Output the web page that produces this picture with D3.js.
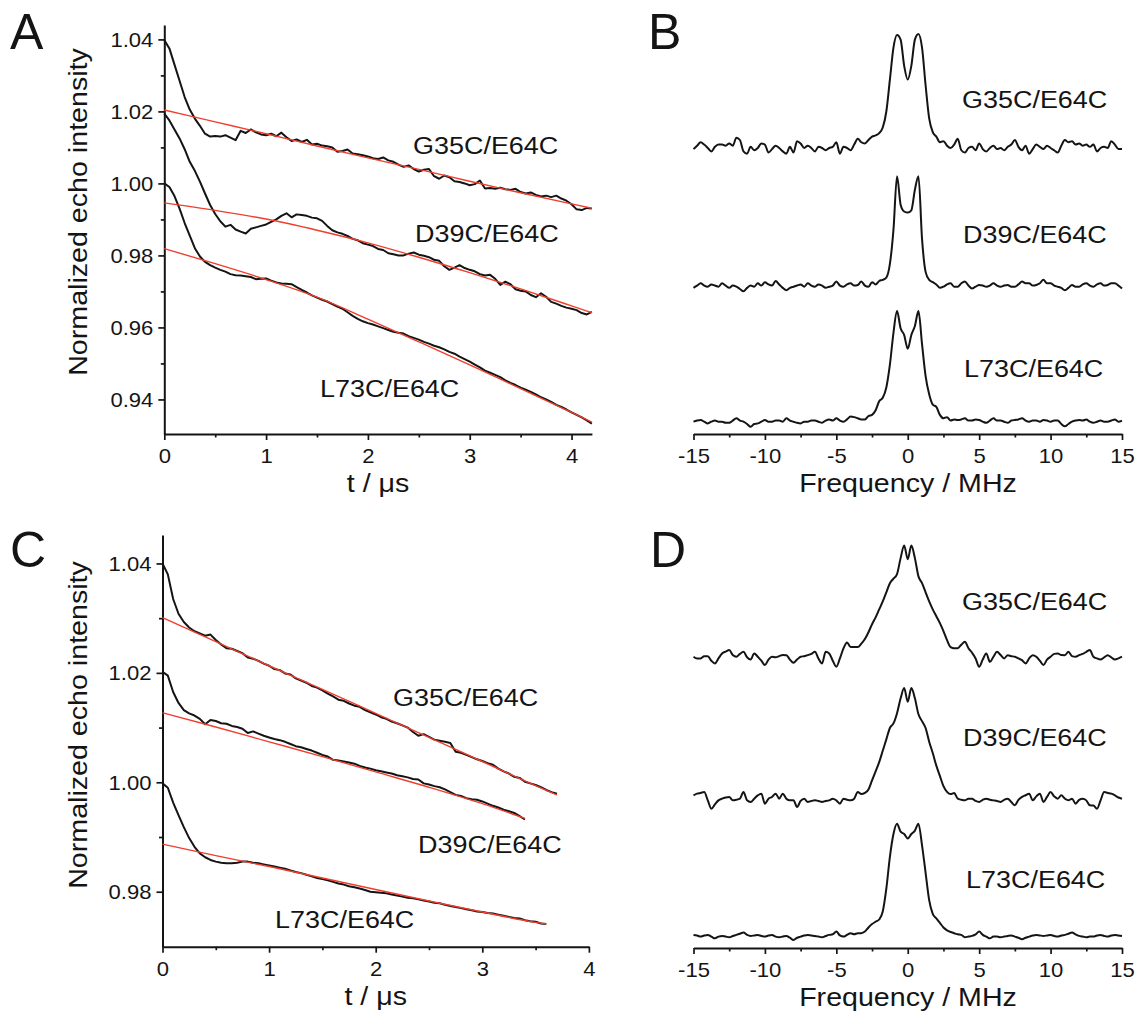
<!DOCTYPE html>
<html>
<head>
<meta charset="utf-8">
<script src="https://cdn.jsdelivr.net/npm/d3@7"></script>
<style>
  body { margin: 0; background: #fff; }
  text { font-family: "Liberation Sans", Arial, sans-serif; fill: #141414; }
</style>
</head>
<body>
<script>
// ---- time domain (panels A and C), sampled every 0.05 us ----
const times = [0,0.05,0.1,0.15,0.2,0.25,0.3,0.35,0.4,0.45,0.5,0.55,0.6,0.65,0.7,0.75,0.8,0.85,0.9,0.95,
  1,1.05,1.1,1.15,1.2,1.25,1.3,1.35,1.4,1.45,1.5,1.55,1.6,1.65,1.7,1.75,1.8,1.85,1.9,1.95,
  2,2.05,2.1,2.15,2.2,2.25,2.3,2.35,2.4,2.45,2.5,2.55,2.6,2.65,2.7,2.75,2.8,2.85,2.9,2.95,
  3,3.05,3.1,3.15,3.2,3.25,3.3,3.35,3.4,3.45,3.5,3.55,3.6,3.65,3.7,3.75,3.8,3.85,3.9,3.95,
  4,4.05,4.1,4.15,4.2];

const g35A = [1.0398,1.0375,1.0330,1.0285,1.0240,1.0205,1.0180,1.0160,1.0138,1.0130,
  1.0132,1.0130,1.0134,1.0127,1.0120,1.0146,1.0140,1.0150,1.0142,1.0136,
  1.0134,1.0138,1.0131,1.0141,1.0128,1.0118,1.0122,1.0115,1.0121,1.0108,
  1.0110,1.0105,1.0103,1.0100,1.0088,1.0090,1.0094,1.0083,1.0081,1.0078,
  1.0075,1.0070,1.0068,1.0072,1.0064,1.0060,1.0052,1.0046,1.0050,1.0040,
  1.0033,1.0038,1.0040,1.0020,1.0013,1.0022,1.0017,1.0006,1.0004,1.0000,
  0.9995,0.9998,1.0008,0.9986,0.9987,0.9985,0.9988,0.9984,0.9982,0.9985,
  0.9976,0.9972,0.9975,0.9968,0.9964,0.9966,0.9962,0.9966,0.9958,0.9952,
  0.9942,0.9928,0.9926,0.9932,0.9930];
const d39A = [1.0194,1.0175,1.0150,1.0125,1.0095,1.0060,1.0035,1.0005,0.9972,0.9940,
  0.9915,0.9895,0.9880,0.9885,0.9872,0.9866,0.9861,0.9874,0.9878,0.9882,
  0.9886,0.9893,0.9900,0.9910,0.9917,0.9906,0.9914,0.9912,0.9910,0.9905,
  0.9903,0.9896,0.9882,0.9870,0.9864,0.9860,0.9854,0.9846,0.9842,0.9834,
  0.9830,0.9826,0.9818,0.9815,0.9806,0.9803,0.9800,0.9800,0.9805,0.9808,
  0.9802,0.9799,0.9795,0.9788,0.9785,0.9770,0.9760,0.9766,0.9773,0.9765,
  0.9760,0.9756,0.9748,0.9744,0.9746,0.9735,0.9718,0.9727,0.9720,0.9706,
  0.9702,0.9700,0.9690,0.9684,0.9695,0.9685,0.9671,0.9666,0.9660,0.9655,
  0.9652,0.9648,0.9640,0.9636,0.9643];
const l73A = [1.0000,0.9990,0.9965,0.9930,0.9890,0.9855,0.9820,0.9797,0.9782,0.9773,
  0.9766,0.9760,0.9755,0.9748,0.9745,0.9744,0.9742,0.9740,0.9734,0.9735,
  0.9736,0.9730,0.9725,0.9722,0.9721,0.9720,0.9712,0.9704,0.9697,0.9689,
  0.9683,0.9677,0.9672,0.9665,0.9658,0.9652,0.9642,0.9632,0.9624,0.9617,
  0.9612,0.9608,0.9603,0.9598,0.9593,0.9588,0.9585,0.9583,0.9576,0.9571,
  0.9566,0.9560,0.9555,0.9549,0.9545,0.9539,0.9532,0.9527,0.9519,0.9512,
  0.9505,0.9497,0.9489,0.9480,0.9474,0.9468,0.9462,0.9453,0.9446,0.9440,
  0.9433,0.9427,0.9421,0.9414,0.9406,0.9400,0.9393,0.9385,0.9379,0.9372,
  0.9364,0.9357,0.9350,0.9342,0.9333];

// fitted background decays (red lines), panel A
const fitTimesA = [0,0.5,1,1.5,2,2.5,3,3.5,4,4.2];
const g35AFit = [1.0204,1.0171,1.0138,1.0104,1.0071,1.0039,1.0006,0.9974,0.9943,0.9931];
const d39AFit = [0.9946,0.9925,0.9901,0.9870,0.9835,0.9795,0.9752,0.9707,0.9660,0.9641];
const l73AFit = [0.9819,0.9777,0.9733,0.9684,0.9623,0.9560,0.9496,0.9430,0.9364,0.9337];

const g35C = [1.0400,1.0380,1.0335,1.0308,1.0293,1.0283,1.0276,1.0272,1.0268,1.0270,
  1.0260,1.0252,1.0245,1.0244,1.0240,1.0236,1.0228,1.0226,1.0222,1.0217,
  1.0213,1.0207,1.0205,1.0199,1.0197,1.0190,1.0186,1.0182,1.0176,1.0173,
  1.0168,1.0162,1.0157,1.0151,1.0149,1.0144,1.0140,1.0138,1.0132,1.0128,
  1.0124,1.0119,1.0116,1.0111,1.0108,1.0104,1.0100,1.0092,1.0085,1.0088,
  1.0083,1.0078,1.0076,1.0074,1.0072,1.0056,1.0054,1.0050,1.0046,1.0042,
  1.0039,1.0035,1.0032,1.0025,1.0020,1.0016,1.0010,1.0008,1.0001,0.9998,
  0.9995,0.9991,0.9986,0.9982,0.9979];
const d39C = [1.0202,1.0195,1.0165,1.0145,1.0132,1.0126,1.0122,1.0116,1.0106,1.0114,
  1.0112,1.0108,1.0107,1.0103,1.0101,1.0098,1.0090,1.0093,1.0089,1.0085,
  1.0082,1.0079,1.0077,1.0074,1.0070,1.0066,1.0064,1.0061,1.0058,1.0054,
  1.0050,1.0047,1.0041,1.0040,1.0038,1.0036,1.0034,1.0030,1.0027,1.0025,
  1.0022,1.0020,1.0018,1.0016,1.0013,1.0011,1.0009,1.0006,1.0005,0.9998,
  0.9996,0.9993,0.9991,0.9987,0.9982,0.9977,0.9975,0.9971,0.9969,0.9968,
  0.9965,0.9961,0.9957,0.9954,0.9950,0.9947,0.9944,0.9938,0.9932];
const l73C = [0.9998,0.9990,0.9963,0.9940,0.9918,0.9898,0.9882,0.9870,0.9863,0.9858,
  0.9855,0.9853,0.9852,0.9852,0.9853,0.9855,0.9855,0.9853,0.9852,0.9850,
  0.9848,0.9846,0.9844,0.9842,0.9839,0.9836,0.9834,0.9831,0.9828,0.9825,
  0.9823,0.9821,0.9818,0.9815,0.9813,0.9810,0.9808,0.9806,0.9803,0.9800,
  0.9799,0.9798,0.9797,0.9795,0.9793,0.9791,0.9789,0.9788,0.9786,0.9784,
  0.9782,0.9780,0.9779,0.9776,0.9774,0.9772,0.9770,0.9768,0.9766,0.9764,
  0.9763,0.9761,0.9760,0.9758,0.9756,0.9754,0.9752,0.9751,0.9748,0.9746,
  0.9745,0.9742,0.9741];

const g35CFitT = [0,0.5,1,1.5,2,2.5,3,3.5,3.7];
const g35CFit = [1.0301,1.0257,1.0213,1.0170,1.0126,1.0082,1.0038,0.9994,0.9977];
const d39CFitT = [0,0.5,1,1.5,2,2.5,3,3.4];
const d39CFit = [1.0127,1.0101,1.0074,1.0047,1.0019,0.9991,0.9961,0.9934];
const l73CFitT = [0,0.5,1,1.5,2,2.5,3,3.5,3.6];
const l73CFit = [0.9887,0.9866,0.9846,0.9825,0.9804,0.9783,0.9763,0.9744,0.9741];

// ---- distance-domain spectra (panels B and D), every 0.25 MHz ----
const freqs = [-15,-14.75,-14.5,-14.25,-14,-13.75,-13.5,-13.25,-13,-12.75,
  -12.5,-12.25,-12,-11.75,-11.5,-11.25,-11,-10.75,-10.5,-10.25,
  -10,-9.75,-9.5,-9.25,-9,-8.75,-8.5,-8.25,-8,-7.75,
  -7.5,-7.25,-7,-6.75,-6.5,-6.25,-6,-5.75,-5.5,-5.25,
  -5,-4.75,-4.5,-4.25,-4,-3.75,-3.5,-3.25,-3,-2.75,
  -2.5,-2.25,-2,-1.75,-1.5,-1.25,-1,-0.75,-0.5,-0.25,
  0,
  0.25,0.5,0.75,1,1.25,1.5,1.75,2,2.25,2.5,
  2.75,3,3.25,3.5,3.75,4,4.25,4.5,4.75,5,
  5.25,5.5,5.75,6,6.25,6.5,6.75,7,7.25,7.5,
  7.75,8,8.25,8.5,8.75,9,9.25,9.5,9.75,10,
  10.25,10.5,10.75,11,11.25,11.5,11.75,12,12.25,12.5,
  12.75,13,13.25,13.5,13.75,14,14.25,14.5,14.75,15];

const g35B = [-0.01,0.02,0.05,0.03,0.0,-0.03,0.01,0.03,0.03,0.02,
  0.04,0.02,0.09,0.07,-0.03,-0.05,0.01,-0.02,0.0,0.04,
  0.03,-0.04,-0.01,0.02,0.0,-0.03,-0.05,0.01,-0.04,0.06,
  0.04,0.0,0.02,0.0,-0.03,0.01,0.0,-0.02,0.0,0.01,
  0.05,-0.05,0.01,0.0,-0.02,0.03,0.08,0.05,0.04,0.07,
  0.10,0.11,0.13,0.18,0.32,0.60,0.88,0.99,0.95,0.72,
  0.60,
  0.72,0.95,1.0,0.88,0.55,0.26,0.14,0.10,0.05,0.06,
  0.02,0.0,0.03,0.08,-0.02,-0.04,0.0,0.01,-0.02,0.04,
  -0.01,-0.03,0.0,0.02,-0.01,0.0,-0.02,0.01,0.03,0.07,
  0.01,-0.02,0.02,-0.05,-0.01,0.03,0.01,-0.01,0.02,0.0,
  -0.02,-0.04,0.02,0.07,0.05,0.06,0.03,0.04,0.02,0.03,
  0.01,0.03,-0.03,0.0,0.01,0.0,0.06,0.03,-0.01,-0.01];
const d39B = [-0.01,0.01,0.03,0.01,0.0,0.02,0.01,0.0,0.03,0.01,
  -0.01,0.01,0.0,-0.02,-0.04,-0.01,0.01,0.0,0.03,0.01,
  0.04,0.02,0.01,0.05,0.02,-0.01,-0.03,-0.01,0.0,0.01,
  0.02,0.0,0.03,0.01,0.0,0.02,0.01,-0.01,0.0,0.01,
  0.045,0.01,0.0,0.02,0.03,0.01,0.015,0.045,0.01,0.0,
  0.04,0.02,0.05,0.06,0.08,0.2,0.5,0.97,0.72,0.66,
  0.65,
  0.67,0.85,0.97,0.42,0.13,0.06,0.04,0.02,-0.01,0.0,
  0.02,0.03,0.0,0.0,0.03,0.045,0.01,-0.015,0.0,0.015,
  0.01,0.0,0.01,0.03,0.01,0.0,0.01,0.015,0.0,0.0,
  0.02,0.045,0.03,0.03,0.01,0.015,0.03,0.06,0.03,0.03,
  0.01,0.0,-0.01,-0.03,-0.01,0.015,0.0,0.0,0.02,0.03,
  0.01,0.0,0.02,0.03,0.01,0.015,0.03,0.03,0.01,-0.015];
const l73B = [0.0,0.01,0.015,0.0,-0.015,0.0,0.01,0.0,0.0,-0.01,
  -0.01,0.01,0.03,0.01,0.0,-0.02,-0.045,-0.02,-0.015,0.0,
  0.015,0.0,0.0,0.01,0.01,0.0,0.03,0.01,0.0,-0.01,
  -0.015,0.0,0.0,0.01,0.01,0.0,-0.01,0.01,0.02,0.01,
  0.03,0.01,0.0,0.02,0.045,0.04,0.03,0.02,0.02,0.05,
  0.06,0.1,0.18,0.21,0.30,0.50,0.78,0.97,0.82,0.76,
  0.64,
  0.76,0.84,0.97,0.68,0.40,0.24,0.15,0.13,0.06,0.03,
  0.04,0.01,0.02,0.015,0.02,0.03,0.01,0.01,0.02,0.015,
  0.0,-0.01,0.01,0.03,0.01,0.01,0.0,-0.01,0.01,0.015,
  0.02,0.03,0.01,0.0,0.01,0.01,0.0,0.015,0.01,0.0,
  0.01,0.01,-0.02,-0.04,-0.02,0.0,0.01,0.015,0.01,0.02,
  0.0,-0.01,0.0,0.01,0.0,0.0,0.01,0.02,0.0,0.01];

const g35D = [0.015,0.0,0.0,0.02,0.02,-0.02,-0.044,0.0,0.044,0.06,
  0.073,0.03,0.015,0.04,0.058,0.01,-0.01,0.044,0.015,-0.02,
  -0.058,-0.01,0.015,0.01,0.02,0.03,0.029,-0.01,-0.038,-0.01,
  0.015,0.02,0.029,0.04,0.058,0.0,-0.044,0.058,0.044,-0.02,
  -0.073,0.0,0.088,0.14,0.10,0.10,0.10,0.13,0.17,0.23,
  0.30,0.36,0.43,0.50,0.58,0.66,0.70,0.74,0.88,0.99,
  0.87,
  0.99,0.88,0.72,0.66,0.58,0.50,0.43,0.37,0.31,0.24,
  0.16,0.10,0.09,0.09,0.12,0.146,0.09,0.05,0.0,-0.073,
  -0.01,0.044,-0.03,0.015,0.058,0.03,0.0,0.029,0.02,0.015,
  0.0,-0.015,-0.044,0.0,0.029,0.015,-0.02,-0.058,-0.01,0.015,
  0.04,0.044,0.03,0.029,0.058,0.02,0.015,0.029,0.04,0.058,
  0.073,0.015,0.0,-0.009,0.01,0.029,0.01,-0.009,0.0,0.015];
const d39D = [0.029,0.044,0.05,0.058,-0.015,-0.088,-0.05,-0.015,0.0,0.01,
  0.015,-0.015,-0.01,0.0,0.058,-0.015,-0.029,0.0,0.029,0.044,
  -0.044,0.0,0.015,0.044,0.0,0.044,0.0,-0.015,-0.015,-0.073,
  -0.02,0.0,-0.029,-0.02,-0.015,-0.02,-0.029,-0.02,-0.015,0.0,
  -0.015,-0.044,0.0,-0.01,-0.015,0.0,0.058,0.04,0.05,0.08,
  0.16,0.24,0.32,0.42,0.52,0.62,0.66,0.75,0.88,0.97,
  0.85,
  0.97,0.88,0.74,0.68,0.62,0.50,0.40,0.29,0.20,0.11,
  0.06,0.04,0.05,0.0,-0.01,-0.015,0.0,0.0,-0.02,-0.029,
  -0.01,0.0,-0.01,-0.015,-0.02,-0.029,-0.01,0.0,-0.03,-0.058,
  -0.01,0.015,0.03,0.044,-0.015,0.02,0.044,-0.029,0.015,0.058,
  0.02,0.0,0.029,0.0,-0.015,0.0,-0.044,-0.01,0.0,-0.015,
  -0.058,-0.06,-0.088,-0.015,0.058,0.05,0.044,0.029,0.01,0.0];
const l73D = [0.015,0.01,0.0,0.01,0.015,0.0,-0.015,0.0,0.006,0.0,
  -0.006,0.005,0.015,0.025,0.035,0.015,0.006,0.01,0.015,0.005,
  0.0,0.01,0.015,0.0,-0.006,0.0,0.006,-0.01,-0.03,-0.01,
  0.0,0.01,0.015,0.01,0.006,0.0,-0.006,0.005,0.015,0.02,
  0.044,0.01,0.0,0.015,0.03,0.02,0.03,0.03,0.044,0.08,
  0.11,0.13,0.15,0.22,0.42,0.70,0.90,0.99,0.92,0.90,
  0.86,
  0.90,0.93,0.99,0.80,0.56,0.32,0.20,0.16,0.12,0.08,
  0.055,0.04,0.03,0.02,0.015,-0.006,0.0,0.006,0.02,0.044,
  0.015,0.0,-0.015,0.0,0.0,-0.006,0.0,0.006,0.01,0.0,
  -0.01,-0.023,-0.01,0.0,0.01,0.015,0.01,0.006,0.01,0.015,
  0.005,0.0,0.01,0.015,0.025,0.035,0.02,0.006,0.0,-0.006,
  0.0,0.0,0.01,0.015,0.006,0.0,0.01,0.015,0.01,0.006];

const sampleNames = ["G35C/E64C", "D39C/E64C", "L73C/E64C"];
const timeTicks = [0, 1, 2, 3, 4];
const timeMinor = [0.5, 1.5, 2.5, 3.5];
const freqTicks = [-15, -10, -5, 0, 5, 10, 15];
const freqMinor = [-12.5, -7.5, -2.5, 2.5, 7.5, 12.5];

// ---- drawing ----
const INK = "#141414";
const RED = "#ef3e2d";

const svg = d3.select("body").append("svg")
  .attr("width", 1139)
  .attr("height", 1017);

function addText(g, x, y, str, size, sx, anchor) {
  return g.append("text")
    .attr("transform", `translate(${x},${y}) scale(${sx},1)`)
    .attr("text-anchor", anchor || "start")
    .style("font-size", `${size}px`)
    .text(str);
}

function styleAxis(a) {
  a.attr("font-family", null).attr("font-size", null).style("color", INK);
  a.select(".domain").attr("stroke-width", 2);
  a.selectAll(".tick line").attr("stroke-width", 1.7);
}

function bottomAxis(g, x, yPos, major, minor, fmt) {
  g.append("g")
    .attr("transform", `translate(0,${yPos})`)
    .call(d3.axisBottom(x).tickValues(minor).tickSize(3.5).tickFormat(""))
    .call(a => { a.select(".domain").remove(); styleAxis(a); });
  const ax = g.append("g")
    .attr("transform", `translate(0,${yPos})`)
    .call(d3.axisBottom(x).tickValues(major).tickSize(6).tickSizeOuter(0).tickPadding(8).tickFormat(fmt))
    .call(styleAxis);
  ax.selectAll(".tick text")
    .style("font-size", "21px")
    .attr("transform", "scale(1.05,1)");
}

function timePanel(cfg) {
  const g = svg.append("g");
  const x = d3.scaleLinear().domain(cfg.xDomain).range(cfg.xRange);
  const y = d3.scaleLinear().domain(cfg.yDomain).range(cfg.yRange);

  g.append("g")
    .attr("transform", `translate(${cfg.xRange[0]},0)`)
    .call(d3.axisLeft(y).tickValues(cfg.yMinor).tickSize(3.5).tickFormat(""))
    .call(a => { a.select(".domain").remove(); styleAxis(a); });
  const ay = g.append("g")
    .attr("transform", `translate(${cfg.xRange[0]},0)`)
    .call(d3.axisLeft(y).tickValues(cfg.yMajor).tickSize(6).tickSizeOuter(0).tickFormat(d3.format(".2f")))
    .call(styleAxis);
  ay.selectAll(".tick text")
    .style("font-size", "21px")
    .attr("x", 0)
    .attr("transform", "translate(-11,0) scale(1.05,1)");

  bottomAxis(g, x, cfg.yRange[0], timeTicks.filter(t => t <= cfg.xDomain[1]), timeMinor, d3.format("d"));

  const line = d3.line().x(d => x(d[0])).y(d => y(d[1]));
  cfg.series.forEach(s => {
    g.append("path")
      .datum(s.values.map((v, i) => [times[i], v]))
      .attr("d", line)
      .attr("fill", "none")
      .attr("stroke", INK)
      .attr("stroke-width", 2)
      .attr("stroke-linejoin", "round");
  });
  const fitLine = d3.line().x(d => x(d[0])).y(d => y(d[1])).curve(d3.curveMonotoneX);
  cfg.series.forEach(s => {
    g.append("path")
      .datum(s.fit.map((v, i) => [s.fitT[i], v]))
      .attr("d", fitLine)
      .attr("fill", "none")
      .attr("stroke", RED)
      .attr("stroke-width", 1.4);
  });
  cfg.labels.forEach((p, i) => addText(g, p[0], p[1], sampleNames[i], 24.5, 1.1));

  addText(g, cfg.letter[0], cfg.letter[1], cfg.letter[2], 50, 1);
  addText(g, (cfg.xRange[0] + cfg.xRange[1]) / 2, cfg.yRange[0] + 58, "t / \u03bcs", 26, 1.1, "middle");
  g.append("text")
    .attr("transform", `translate(87,${cfg.yTitle}) rotate(-90) scale(1.08,1)`)
    .attr("text-anchor", "middle")
    .style("font-size", "26.5px")
    .text("Normalized echo intensity");
}

function specPanel(cfg) {
  const g = svg.append("g");
  const x = d3.scaleLinear().domain([-15, 15]).range([693.5, 1122]);
  const y = d3.scaleLinear().domain([0, 3.5]).range([cfg.axisY, cfg.axisY - 3.5 * 114]);
  bottomAxis(g, x, cfg.axisY, freqTicks, freqMinor, d => String(d));

  const line = d3.line().x(d => x(d[0])).y(d => y(d[1])).curve(d3.curveMonotoneX);
  cfg.series.forEach((vals, k) => {
    g.append("path")
      .datum(vals.map((v, i) => [freqs[i], v + cfg.offsets[k]]))
      .attr("d", line)
      .attr("fill", "none")
      .attr("stroke", INK)
      .attr("stroke-width", 2)
      .attr("stroke-linejoin", "round");
  });
  cfg.labels.forEach((p, i) => addText(g, p[0], p[1], sampleNames[i], 24.5, 1.1));

  addText(g, cfg.letter[0], cfg.letter[1], cfg.letter[2], 50, 1);
  addText(g, 908, cfg.axisY + 58, "Frequency / MHz", 26, 1.1, "middle");
}

timePanel({
  xDomain: [0, 4.2], xRange: [164.3, 591.9],
  yDomain: [0.9304, 1.044], yRange: [434, 25],
  yMajor: [0.94, 0.96, 0.98, 1.00, 1.02, 1.04],
  yMinor: [0.95, 0.97, 0.99, 1.01, 1.03],
  series: [
    { values: g35A, fit: g35AFit, fitT: fitTimesA },
    { values: d39A, fit: d39AFit, fitT: fitTimesA },
    { values: l73A, fit: l73AFit, fitT: fitTimesA }
  ],
  labels: [[413, 154], [415, 242], [320, 397]],
  letter: [10, 49, "A"],
  yTitle: 212
});

timePanel({
  xDomain: [0, 4], xRange: [162.5, 588.9],
  yDomain: [0.96995, 1.0452], yRange: [946.7, 535],
  yMajor: [0.98, 1.00, 1.02, 1.04],
  yMinor: [0.99, 1.01, 1.03],
  series: [
    { values: g35C, fit: g35CFit, fitT: g35CFitT },
    { values: d39C, fit: d39CFit, fitT: d39CFitT },
    { values: l73C, fit: l73CFit, fitT: l73CFitT }
  ],
  labels: [[393, 706], [418, 853], [275, 928]],
  letter: [10, 567, "C"],
  yTitle: 725
});

specPanel({
  axisY: 434,
  offsets: [2.509, 1.292, 0.108],
  series: [g35B, d39B, l73B],
  labels: [[962, 108], [963, 243], [964, 377]],
  letter: [648, 49, "B"]
});

specPanel({
  axisY: 948,
  offsets: [2.54, 1.31, 0.10],
  series: [g35D, d39D, l73D],
  labels: [[962, 610], [963, 746], [966, 888]],
  letter: [650, 567, "D"]
});
</script>
</body>
</html>
